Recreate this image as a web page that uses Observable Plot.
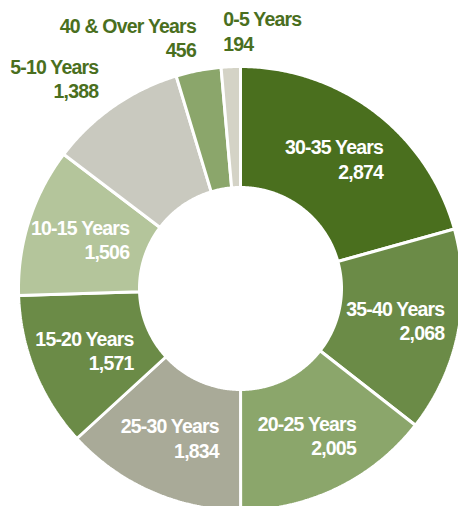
<!DOCTYPE html>
<html><head><meta charset="utf-8">
<script src="https://cdn.jsdelivr.net/npm/d3@7"></script>
<script src="https://cdn.jsdelivr.net/npm/@observablehq/plot@0.6"></script>
<style>
html,body{margin:0;padding:0;background:#fff;overflow:hidden}
svg text{letter-spacing:-0.8px}
</style></head><body><div id="chart"></div>
<script>
const categories = ["30-35 Years","35-40 Years","20-25 Years","25-30 Years","15-20 Years","10-15 Years","5-10 Years","40 & Over Years","0-5 Years"];
const values = [2874,2068,2005,1834,1571,1506,1388,456,194];
const sliceColors = ["#4a6f1e","#6b8b47","#8ba66b","#a9aa98","#6b8b47","#b4c59b","#c9c9bf","#8ba66b","#d4d3c6"];
const outsideLabels = ["5-10 Years","40 & Over Years","0-5 Years"];

const W = 458, H = 506, CX = 240, CY = 288, R_OUT = 222, R_IN = 101;
const total = d3.sum(values);
const fmt = d3.format(",");
const slices = [];
let acc = 0;
categories.forEach((c, i) => {
  const a0 = acc / total * 2 * Math.PI;
  acc += values[i];
  const a1 = acc / total * 2 * Math.PI;
  slices.push({c, v: values[i], a0, a1});
});
const pts = [];
for (const s of slices) {
  const n = Math.max(4, Math.ceil((s.a1 - s.a0) / (Math.PI / 360)));
  const ring = [];
  for (let k = 0; k <= n; k++) { const a = s.a0 + (s.a1 - s.a0) * k / n; ring.push({c: s.c, x: R_OUT * Math.sin(a), y: -R_OUT * Math.cos(a)}); }
  for (let k = n; k >= 0; k--) { const a = s.a0 + (s.a1 - s.a0) * k / n; ring.push({c: s.c, x: R_IN * Math.sin(a), y: -R_IN * Math.cos(a)}); }
  ring.push(ring[0]);
  pts.push(...ring);
}
const labels = slices.map(s => {
  const m = (s.a0 + s.a1) / 2;
  const out = outsideLabels.includes(s.c);
  const r = out ? 256 : 163;
  return {c: s.c, text: s.c + "\n" + fmt(s.v), out, x: r * Math.sin(m), y: -r * Math.cos(m), side: Math.sin(m) < -0.06 ? "end" : "start"};
});
const font = "'Liberation Sans', Arial, sans-serif";
const textOpts = {x: "x", y: "y", text: "text", fontFamily: font, fontWeight: "bold", fontSize: 19.5, lineHeight: 1.25, lineAnchor: "middle"};

const chart = Plot.plot({
  width: W, height: H, margin: 0,
  x: {domain: [-CX, W - CX], range: [0, W], axis: null},
  y: {domain: [-CY, H - CY], range: [0, H], axis: null},
  color: {domain: categories, range: sliceColors},
  marks: [
    Plot.line(pts, {x: "x", y: "y", z: "c", fill: "c", stroke: "white", strokeWidth: 3, curve: "linear", strokeLinejoin: "miter"}),
    Plot.text(labels.filter(d => !d.out), {...textOpts, fill: "white", textAnchor: "end", dx: 44}),
    Plot.text(labels.filter(d => d.out && d.side === "end"), {...textOpts, fill: "#4a6f1e", textAnchor: "end", dx: 4}),
    Plot.text(labels.filter(d => d.out && d.side === "start"), {...textOpts, fill: "#4a6f1e", textAnchor: "start", dx: -6, dy: -2})
  ]
});
document.getElementById("chart").appendChild(chart);
</script></body></html>
